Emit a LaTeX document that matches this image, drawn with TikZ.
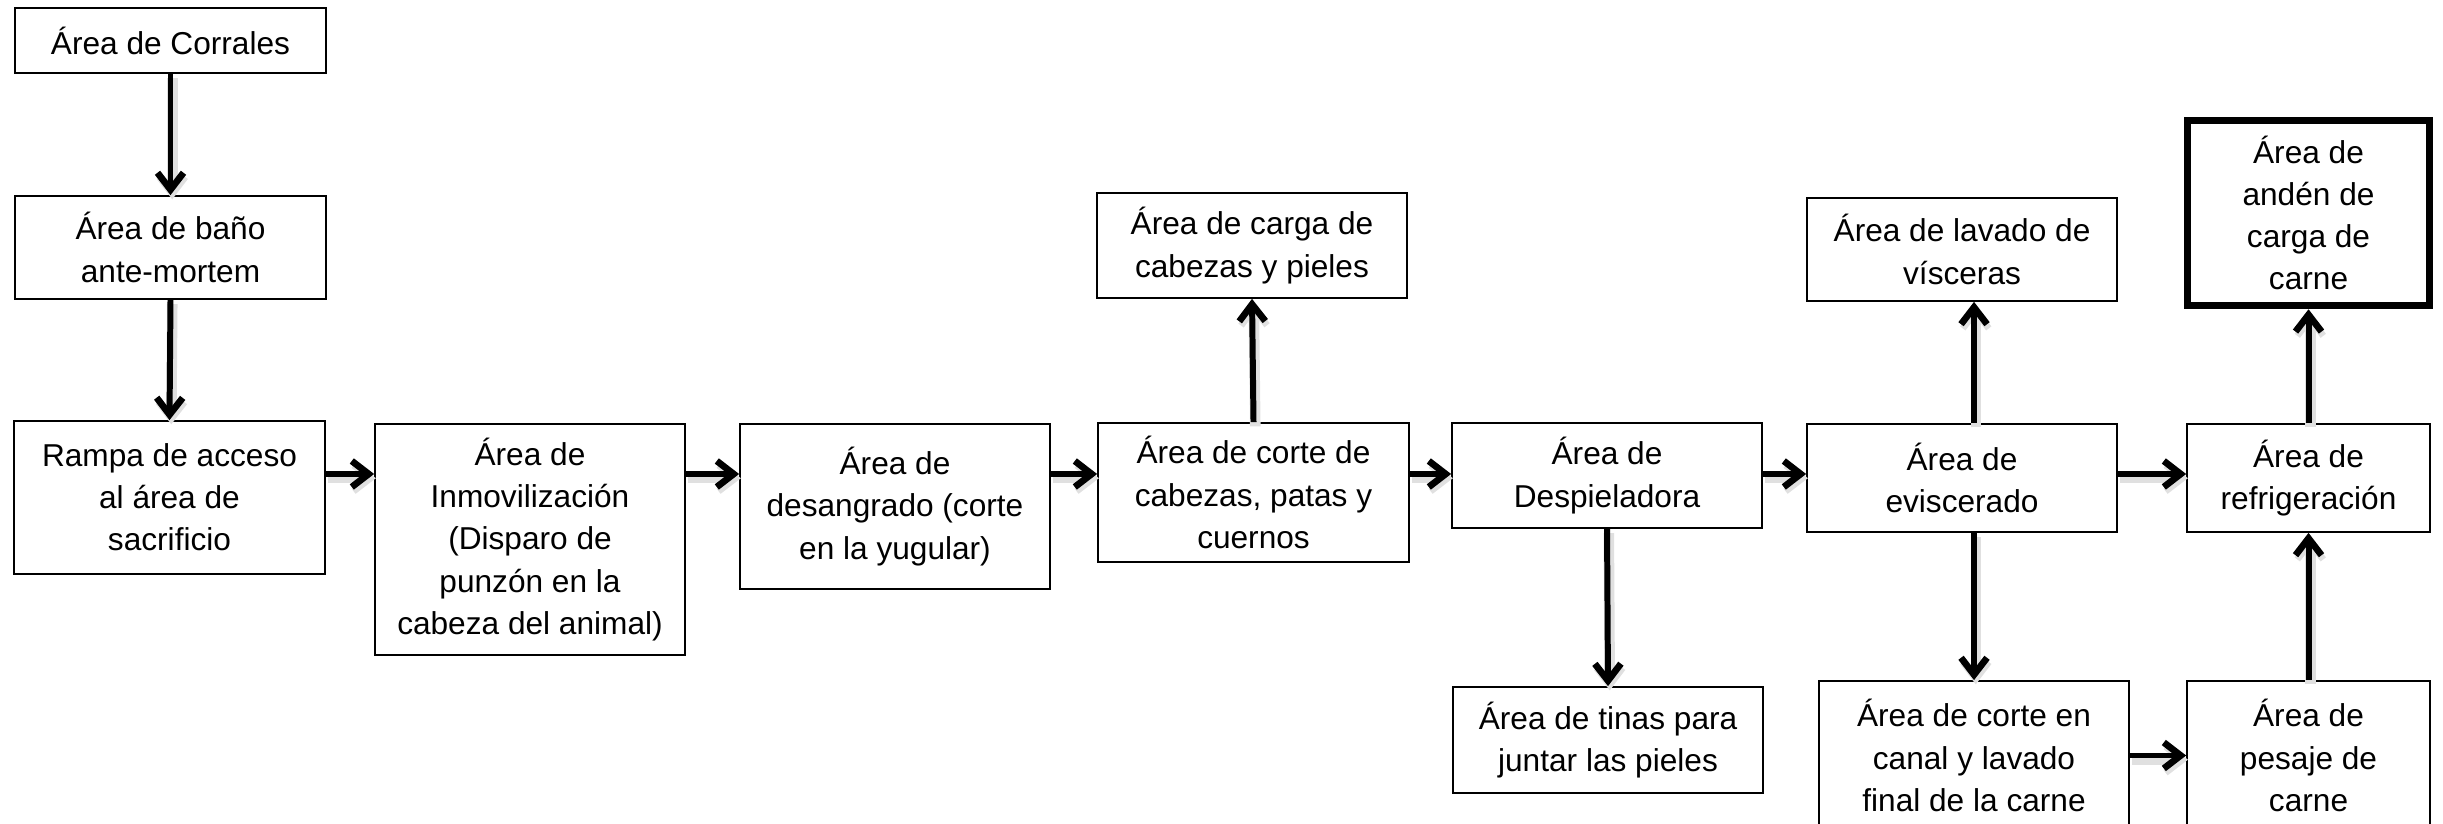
\documentclass[tikz,border=0pt]{standalone}
\usepackage{fontspec}
\setmainfont{Liberation Sans}
\usetikzlibrary{positioning,arrows.meta,calc}

\begin{document}
\begin{tikzpicture}[
  caja/.style={rectangle,draw,line width=0.5pt,fill=white,align=center,inner sep=2pt,font=\fontsize{9}{12}\selectfont},
  flecha/.style={-{Straight Barb[length=4.8pt,width=7.4pt,line width=1.9pt]},line width=1.7pt,
    preaction={draw=black!12,line width=3pt,transform canvas={xshift=0.5pt,yshift=-1.2pt}}},
]
\useasboundingbox (0,0) rectangle (24.43,-8.24);

% === COLUMNA 1: corrales hasta la rampa ===
\node[caja,minimum width=3.11cm,minimum height=0.65cm] (corrales) at (1.705,-0.405) {Área de Corrales};
\node[caja,minimum width=3.11cm,minimum height=1.03cm] (bano) at (1.705,-2.475) {Área de baño\\ante-mortem};
\node[caja,minimum width=3.11cm,minimum height=1.53cm] (rampa) at (1.695,-4.975) {Rampa de acceso\\al área de\\sacrificio};

\draw[flecha] (corrales.south) -- (bano.north);
\draw[flecha] (bano.south) -- (rampa.north);

% === FILA PRINCIPAL ===
\coordinate (fila) at (0,-4.74);

\node[caja,minimum width=3.10cm,minimum height=2.31cm] (inmov) at (5.30,-5.395) {Área de\\Inmovilización\\(Disparo de\\punzón en la\\cabeza del animal)};
\node[caja,minimum width=3.10cm,minimum height=1.65cm] (desang) at (8.95,-5.065) {Área de\\desangrado (corte\\en la yugular)};
\node[caja,minimum width=3.11cm,minimum height=1.39cm] (corte) at (12.535,-4.925) {Área de corte de\\cabezas, patas y\\cuernos};
\node[caja,minimum width=3.10cm,minimum height=1.05cm] (despiel) at (16.07,-4.755) {Área de\\Despieladora};
\node[caja,minimum width=3.10cm,minimum height=1.08cm] (evisc) at (19.62,-4.78) {Área de\\eviscerado};
\node[caja,minimum width=2.43cm,minimum height=1.08cm] (refrig) at (23.085,-4.78) {Área de\\refrigeración};

\draw[flecha] (rampa.east |- fila) -- (inmov.west |- fila);
\draw[flecha] (inmov.east |- fila) -- (desang.west |- fila);
\draw[flecha] (desang.east |- fila) -- (corte.west |- fila);
\draw[flecha] (corte.east |- fila) -- (despiel.west |- fila);
\draw[flecha] (despiel.east |- fila) -- (evisc.west |- fila);
\draw[flecha] (evisc.east |- fila) -- (refrig.west |- fila);

% === RAMAS ARRIBA ===
\node[caja,minimum width=3.10cm,minimum height=1.05cm] (carga) at (12.52,-2.455) {Área de carga de\\cabezas y pieles};
\node[caja,minimum width=3.10cm,minimum height=1.03cm] (lavado) at (19.62,-2.495) {Área de lavado de\\vísceras};
\node[caja,line width=2pt,minimum width=2.42cm,minimum height=1.855cm] (anden) at (23.085,-2.13) {Área de\\andén de\\carga de\\carne};

% === RAMAS ABAJO ===
\node[caja,minimum width=3.10cm,minimum height=1.06cm] (tinas) at (16.08,-7.40) {Área de tinas para\\juntar las pieles};
\node[caja,minimum width=3.10cm,minimum height=1.49cm] (canal) at (19.74,-7.555) {Área de corte en\\canal y lavado\\final de la carne};
\node[caja,minimum width=2.43cm,minimum height=1.49cm] (pesaje) at (23.085,-7.555) {Área de\\pesaje de\\carne};

\draw[flecha] (corte.north) -- (carga.south);
\draw[flecha] (despiel.south) -- (tinas.north);
\draw[flecha] (evisc.north -| canal) -- (lavado.south -| canal);
\draw[flecha] (evisc.south -| canal) -- (canal.north);
\draw[flecha] (canal.east) -- (pesaje.west);
\draw[flecha] (pesaje.north) -- (refrig.south);
\draw[flecha] (refrig.north) -- (anden.south);

\end{tikzpicture}
\end{document}
